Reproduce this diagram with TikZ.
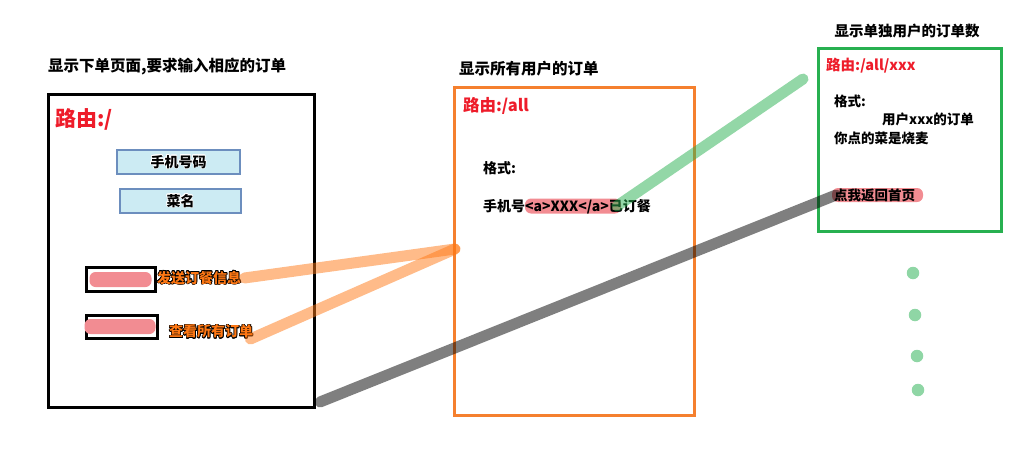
\documentclass[tikz,border=0pt]{standalone}
\usepackage{fontspec}
\setmainfont{Noto Sans CJK SC}
\usepackage{contour}
\contourlength{0.6pt}
\contournumber{16}
\definecolor{routered}{RGB}{238,28,42}
\definecolor{boxorange}{RGB}{245,128,46}
\definecolor{boxgreen}{RGB}{40,176,80}
\definecolor{linkpink}{RGB}{242,140,146}
\definecolor{fieldfill}{RGB}{204,235,243}
\definecolor{fieldline}{RGB}{108,142,190}
\definecolor{btnorange}{RGB}{255,120,20}
\definecolor{dotgreen}{RGB}{143,214,165}
\tikzset{
  x=1pt, y=-1pt,
  txt/.style={anchor=west, inner sep=0pt, font=\bfseries\fontsize{14}{16}\selectfont},
  title/.style={txt, font=\bfseries\fontsize{15.5}{18}\selectfont},
  route/.style={txt, text=routered},
  pagebox/.style={draw, line width=3pt, inner sep=0pt, outer sep=0pt},
  field/.style={draw=fieldline, fill=fieldfill, line width=2.5pt, inner sep=0pt, outer sep=0pt, font=\bfseries\fontsize{14}{16}\selectfont},
  btn/.style={draw=black, line width=3pt, inner sep=0pt, outer sep=0pt},
  pinkfill/.style={fill=linkpink, rounded corners=6pt, inner sep=0pt, outer sep=0pt},
  thickline/.style={line width=11pt, line cap=round},
  dotnode/.style={circle, fill=dotgreen, inner sep=0pt, minimum size=12.5pt}
}
\begin{document}
\begin{tikzpicture}
\useasboundingbox (0,0) rectangle (1025,460);

% titles
\node[title] (t1) at (48,67) {显示下单页面,要求输入相应的订单};
\node[title] (t2) at (459,69) {显示所有用户的订单};
\node[title, anchor=center, font=\bfseries\fontsize{14.5}{17}\selectfont] (t3) at (907,31) {显示单独用户的订单数};

% page boxes
\node[pagebox, minimum width=266pt, minimum height=313pt, anchor=north west] (pA) at (48,94) {};
\node[pagebox, draw=boxorange, minimum width=240pt, minimum height=328pt, anchor=north west] (pB) at (454,87) {};
\node[pagebox, draw=boxgreen, minimum width=183pt, minimum height=182pt, anchor=north west] (pC) at (818,49) {};

% page A contents
\node[route, font=\bfseries\fontsize{21}{24}\selectfont] (rA) at (55,120) {\contour{white}{路由:/}};
\node[field, minimum width=123pt, minimum height=24pt, anchor=north west] (phone) at (117,150) {\contour{white}{手机号码}};
\node[field, minimum width=121pt, minimum height=24pt, anchor=north west] (dish) at (120,189) {\contour{white}{菜名}};

\node[btn, minimum width=69pt, minimum height=24pt, anchor=north west] (b1) at (86,267.5) {};
\node[pinkfill, minimum width=62pt, minimum height=15pt] (b1f) at (b1) {};
\node[btn, minimum width=71pt, minimum height=23pt, anchor=north west] (b2) at (86,315.5) {};
\node[pinkfill, minimum width=71pt, minimum height=15pt] (b2f) at (120,326.5) {};

\node[txt, text=btnorange] (send) at (157,278) {\contour{black}{发送订餐信息}};
\node[txt, text=btnorange] (view) at (169,332) {\contour{black}{查看所有订单}};

% page B contents
\node[route, font=\bfseries\fontsize{16.5}{19}\selectfont] (rB) at (463,106) {\contour{white}{路由:/all}};
\node[txt] (fmtB) at (483,168) {格式:};
\node[pinkfill, minimum width=96pt, minimum height=15pt, anchor=west] (alink) at (525,206) {};
\node[txt] (lineB) at (483,207) {手机号<a>XXX</a>已订餐};

% page C contents
\node[route, font=\bfseries\fontsize{14.5}{17}\selectfont] (rC) at (826,66) {\contour{white}{路由:/all/xxx}};
\node[txt, font=\bfseries\fontsize{13.5}{16}\selectfont] (fmtC) at (834,101) {格式:};
\node[txt, font=\bfseries\fontsize{13.5}{16}\selectfont] (userC) at (882,119) {用户xxx的订单};
\node[txt, font=\bfseries\fontsize{13.5}{16}\selectfont] (dishC) at (834,138) {你点的菜是烧麦};
\node[pinkfill, minimum width=91pt, minimum height=14pt, anchor=west] (back) at (832,195) {};
\node[txt, font=\bfseries\fontsize{13.5}{16}\selectfont] (backT) at (834,195) {点我返回首页};

% dots
\node[dotnode] (d1) at (913,273) {};
\node[dotnode] (d2) at (915,315) {};
\node[dotnode] (d3) at (917,356) {};
\node[dotnode] (d4) at (918,390) {};

% connectors
\coordinate (inB) at (455,249);
\coordinate (greenEnd) at (803,79);
\draw[thickline, draw=btnorange, opacity=0.5] ([xshift=3pt]send.east) -- (inB);
\draw[thickline, draw=btnorange, opacity=0.5] ([xshift=-3pt,yshift=-7pt]view.east) -- (inB);
\draw[thickline, draw=boxgreen, opacity=0.5] ([xshift=-4pt]alink.east) -- (greenEnd);
\draw[thickline, draw=black, opacity=0.5] ([xshift=6pt,yshift=5pt]pA.south east) -- ([xshift=4pt]back.west);
\end{tikzpicture}
\end{document}
